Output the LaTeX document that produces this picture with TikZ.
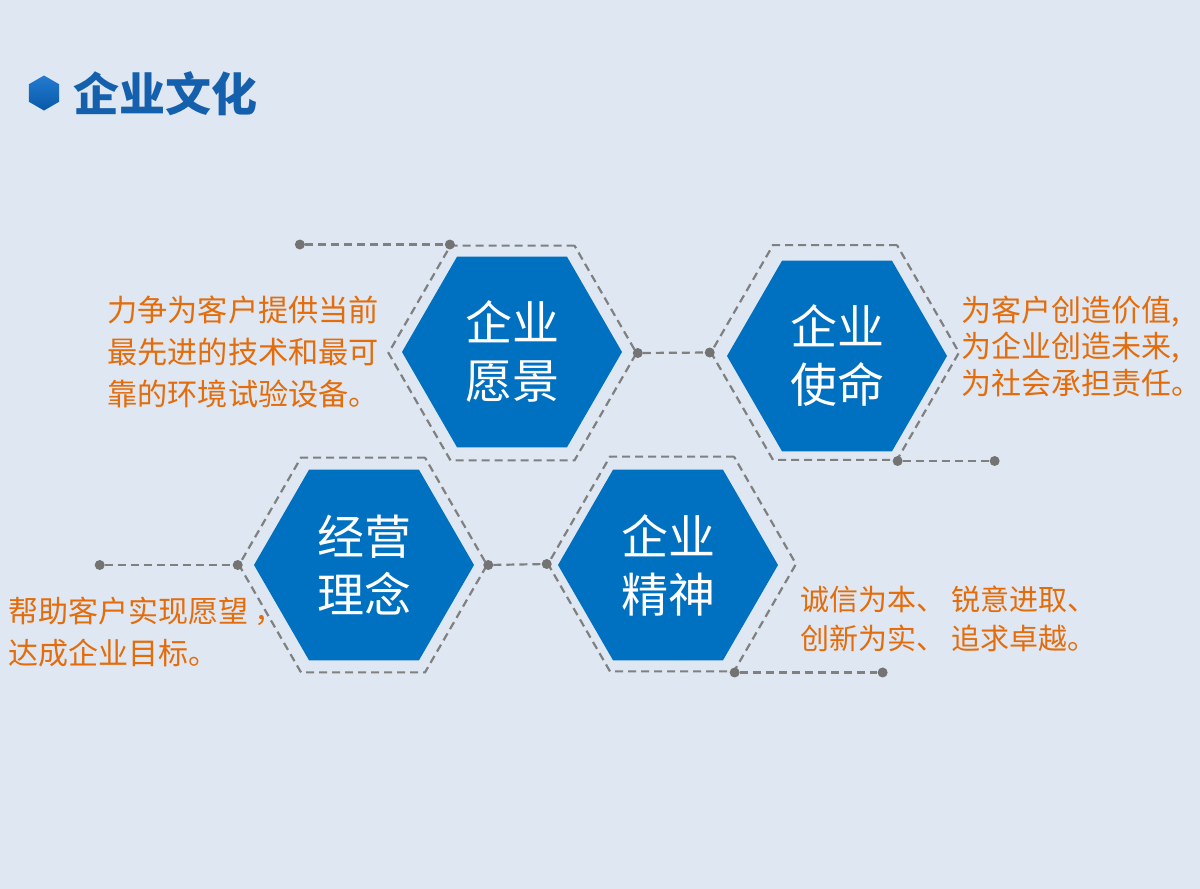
\documentclass[tikz,border=0pt]{standalone}
\usepackage{fontspec}
\setmainfont{Noto Sans CJK SC}
\usetikzlibrary{shapes.geometric}
\definecolor{bgcol}{RGB}{222,231,242}
\definecolor{hexblue}{RGB}{0,112,192}
\definecolor{orangetxt}{RGB}{228,108,10}
\definecolor{dashgray}{RGB}{128,128,128}
\definecolor{dotgray}{RGB}{115,115,115}
\definecolor{titleblue}{RGB}{21,96,173}
\definecolor{bullettop}{RGB}{34,124,208}
\definecolor{bulletbot}{RGB}{10,88,168}
\begin{document}
\begin{tikzpicture}[x=1pt,y=-1pt,
  hexfill/.style={regular polygon, regular polygon sides=6, minimum size=220pt, inner sep=0pt, fill=hexblue, text=white, align=center, font=\fontsize{47}{58}\selectfont},
  hexdash/.style={regular polygon, regular polygon sides=6, minimum size=248pt, inner sep=0pt, draw=dashgray, line width=2.2pt, dash pattern=on 8pt off 5pt},
  dotnode/.style={circle, fill=dotgray, minimum size=10pt, inner sep=0pt},
  conn/.style={draw=dashgray, line width=2.2pt, dash pattern=on 8pt off 5pt},
  desc/.style={text=orangetxt, anchor=west, align=left, inner sep=0pt}
]
\fill[bgcol] (0,0) rectangle (1200,889);
\useasboundingbox (0,0) rectangle (1200,889);

% title
\node[regular polygon, regular polygon sides=6, shape border rotate=30, minimum size=35pt, inner sep=0pt, top color=bullettop, bottom color=bulletbot] (bullet) at (44,93) {};
\node[anchor=west, inner sep=0pt, text=titleblue, font=\fontsize{46}{46}\selectfont\bfseries] (title) at (73,94) {企业文化};

% dashed outlines
\node[hexdash] (h1d) at (512.5,353) {};
\node[hexdash] (h2d) at (835,352.5) {};
\node[hexdash] (h3d) at (363,565) {};
\node[hexdash] (h4d) at (672,564) {};

% filled hexagons
\node[hexfill] (h1) at (512,352) {企业\\愿景};
\node[hexfill] (h2) at (837,356) {企业\\使命};
\node[hexfill] (h3) at (364,565) {经营\\理念};
\node[hexfill] (h4) at (668,565) {企业\\精神};

% dots
\node[dotnode] (d1a) at (h1d.120) {};
\node[dotnode] (d1b) at ([xshift=-150pt]d1a.center) {};
\node[dotnode] (d12a) at (h1d.0) {};
\node[dotnode] (d12b) at (h2d.180) {};
\node[dotnode] (d2a) at (h2d.-60) {};
\node[dotnode] (d2b) at ([xshift=97pt]d2a.center) {};
\node[dotnode] (d3a) at (h3d.180) {};
\node[dotnode] (d3b) at ([xshift=-138pt]d3a.center) {};
\node[dotnode] (d34a) at (h3d.0) {};
\node[dotnode] (d34b) at (h4d.180) {};
\node[dotnode] (d4a) at (h4d.-60) {};
\node[dotnode] (d4b) at ([xshift=148pt]d4a.center) {};

% connectors
\draw[conn] (d1b) -- (d1a);
\draw[conn] (d12a) -- (d12b);
\draw[conn] (d2a) -- (d2b);
\draw[conn] (d3b) -- (d3a);
\draw[conn] (d34a) -- (d34b);
\draw[conn] (d4a) -- (d4b);

% descriptions
\node[desc, font=\fontsize{30.2}{42}\selectfont] (t1) at (107,352) {力争为客户提供当前\\最先进的技术和最可\\靠的环境试验设备。};
\node[desc, font=\fontsize{30}{36.5}\selectfont] (t2) at (961,346) {为客户创造价值,\\为企业创造未来,\\为社会承担责任。};
\node[desc, font=\fontsize{30}{42}\selectfont] (t3) at (8,632) {帮助客户实现愿望\hspace{6pt}，\\达成企业目标。};
\node[desc, font=\fontsize{29}{39}\selectfont] (t4) at (800,618.5) {诚信为本、 锐意进取、\\创新为实、 追求卓越。};
\end{tikzpicture}
\end{document}
